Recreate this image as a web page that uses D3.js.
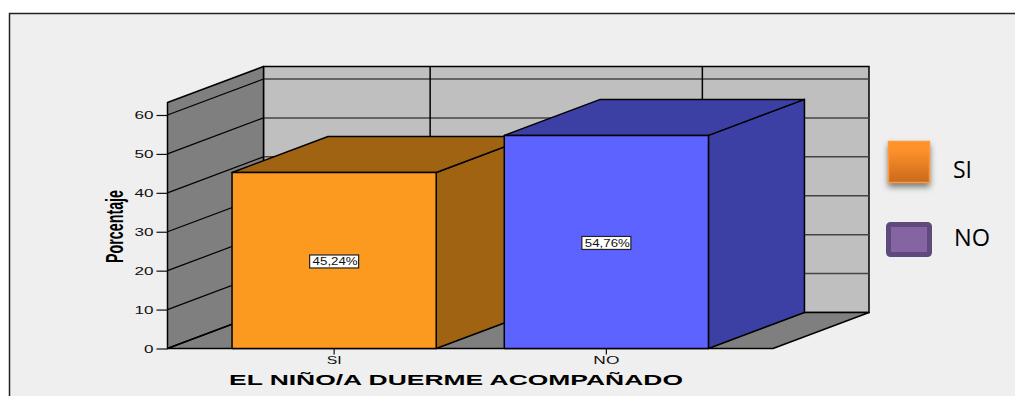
<!DOCTYPE html>
<html>
<head>
<meta charset="utf-8">
<title></title>
<style>
body { margin: 0; background: #fff; }
text { font-family: "Liberation Sans", Arial, sans-serif; fill: #111; }
.wall { fill: #7f7f7f; stroke: #000; stroke-width: 1.5px; stroke-linejoin: round; }
.back { fill: #bfbfbf; stroke: #000; stroke-width: 1.5px; }
.grid { stroke: #444; stroke-width: 1.5px; fill: none; }
.bar path { stroke: #000; stroke-width: 1.5px; stroke-linejoin: round; }
</style>
<script src="https://cdn.jsdelivr.net/npm/d3@7"></script>
</head>
<body>
<script>

var categories = ["SI", "NO"];
var percentages = [45.24, 54.76];
var valueLabels = ["45,24%", "54,76%"];
var yTicks = [0, 10, 20, 30, 40, 50, 60];
var legendLabels = ["SI", "NO"];
var xTitle = "EL NIÑO/A DUERME ACOMPAÑADO";
var yTitle = "Porcentaje";
var frontColors = ["#fc9a1f", "#5d63ff"];
var topColors = ["#a06311", "#3c40a4"];

var width = 1015,
    height = 396;

// depth of the fake 3d box
var depthX = 96,
    depthY = -36;

var y = d3.scaleLinear().domain([0, 60]).range([348.5, 115]);
var yMax = 63.2;

var x = d3.scaleBand()
    .domain(categories)
    .range([167.5, 773])
    .paddingInner(0.25)
    .paddingOuter(0.2371);

var svg = d3.select("body").append("svg")
    .attr("width", width)
    .attr("height", height)
    .style("display", "block");

// panel, no line on the right or at the bottom
svg.append("rect")
    .attr("x", 9.5).attr("y", 13.5)
    .attr("width", width - 9.5).attr("height", height - 13.5)
    .attr("fill", "#efefef");
svg.append("path")
    .attr("d", "M9.5,396V13.5H" + width)
    .attr("fill", "none")
    .attr("stroke", "#222")
    .attr("stroke-width", 1.5);

function poly(pts) {
  return d3.line()(pts) + "Z";
}

var x0 = x.range()[0],
    x1 = x.range()[1];

// back wall, side wall and floor
svg.append("path").attr("class", "back")
    .attr("d", poly([[x0 + depthX, y(yMax) + depthY], [x1 + depthX, y(yMax) + depthY], [x1 + depthX, y(0) + depthY], [x0 + depthX, y(0) + depthY]]));

svg.append("g").selectAll("line")
    .data(yTicks.slice(1))
    .enter().append("line")
    .attr("class", "grid")
    .attr("x1", x0 + depthX)
    .attr("x2", x1 + depthX)
    .attr("y1", function(d) { return y(d) + depthY; })
    .attr("y2", function(d) { return y(d) + depthY; });

svg.append("g").selectAll("line")
    .data(categories)
    .enter().append("line")
    .attr("stroke", "#000")
    .attr("stroke-width", 1.5)
    .attr("x1", function(d) { return x(d) + x.bandwidth() / 2 + depthX; })
    .attr("x2", function(d) { return x(d) + x.bandwidth() / 2 + depthX; })
    .attr("y1", y(yMax) + depthY)
    .attr("y2", y(0) + depthY);

svg.append("path").attr("class", "wall")
    .attr("d", poly([[x0, y(yMax)], [x0 + depthX, y(yMax) + depthY], [x0 + depthX, y(0) + depthY], [x0, y(0)]]));

svg.append("path").attr("class", "wall")
    .attr("d", poly([[x0, y(0)], [x1, y(0)], [x1 + depthX, y(0) + depthY], [x0 + depthX, y(0) + depthY]]));

svg.append("g").selectAll("line")
    .data(yTicks)
    .enter().append("line")
    .attr("stroke", "#000")
    .attr("stroke-width", 1.2)
    .attr("x1", x0)
    .attr("x2", x0 + depthX)
    .attr("y1", function(d) { return y(d); })
    .attr("y2", function(d) { return y(d) + depthY; });

// bars, back to front
var bar = svg.append("g").selectAll("g")
    .data(categories)
    .enter().append("g")
    .attr("class", "bar");

bar.append("path")
    .attr("fill", function(d, i) { return topColors[i]; })
    .attr("d", function(d, i) {
      var r = x(d) + x.bandwidth(), t = y(percentages[i]);
      return poly([[r, t], [r + depthX, t + depthY], [r + depthX, y(0) + depthY], [r, y(0)]]);
    });

bar.append("path")
    .attr("fill", function(d, i) { return topColors[i]; })
    .attr("d", function(d, i) {
      var l = x(d), r = l + x.bandwidth(), t = y(percentages[i]);
      return poly([[l, t], [l + depthX, t + depthY], [r + depthX, t + depthY], [r, t]]);
    });

bar.append("path")
    .attr("fill", function(d, i) { return frontColors[i]; })
    .attr("d", function(d, i) {
      var l = x(d), r = l + x.bandwidth(), t = y(percentages[i]);
      return poly([[l, t], [r, t], [r, y(0)], [l, y(0)]]);
    });

// value labels
bar.append("rect")
    .attr("x", function(d) { return x(d) + x.bandwidth() / 2 - 24.5; })
    .attr("y", function(d, i) { return y(percentages[i] / 2) - 5.5; })
    .attr("width", 49)
    .attr("height", 13)
    .attr("fill", "#fff")
    .attr("stroke", "#222")
    .attr("stroke-width", 1.2);

// the original text is stretched sideways, textLength does that
bar.append("text")
    .attr("x", function(d) { return x(d) + x.bandwidth() / 2 + 1; })
    .attr("y", function(d, i) { return y(percentages[i] / 2) + 5; })
    .attr("text-anchor", "middle")
    .attr("textLength", 45)
    .attr("lengthAdjust", "spacingAndGlyphs")
    .style("font-size", "10px")
    .text(function(d, i) { return valueLabels[i]; });

// axes
var yAxis = svg.append("g")
    .attr("transform", "translate(" + x0 + ",0)")
    .call(d3.axisLeft(y).tickValues(yTicks).tickSize(11).tickPadding(3));
yAxis.select(".domain").remove();
yAxis.selectAll("line").attr("stroke", "#111").attr("stroke-width", 1.2);
yAxis.selectAll("text")
    .attr("textLength", function(d) { return String(d).length * 9.5; })
    .attr("lengthAdjust", "spacingAndGlyphs")
    .style("font-size", "11px")
    .style("font-family", "Liberation Sans");

var xAxis = svg.append("g")
    .attr("transform", "translate(0," + y(0) + ")")
    .call(d3.axisBottom(x).tickSize(6).tickPadding(2));
xAxis.select(".domain").remove();
xAxis.selectAll("line").attr("stroke", "#111").attr("stroke-width", 1.2);
xAxis.selectAll("text")
    .attr("textLength", function(d) { return d == "SI" ? 15 : 26; })
    .attr("lengthAdjust", "spacingAndGlyphs")
    .style("font-size", "11px")
    .style("font-family", "Liberation Sans");

svg.append("text")
    .attr("x", 456)
    .attr("y", 385)
    .attr("text-anchor", "middle")
    .attr("textLength", 454)
    .attr("lengthAdjust", "spacingAndGlyphs")
    .style("font-size", "15px")
    .style("font-weight", "bold")
    .style("fill", "#000")
    .text(xTitle);

svg.append("text")
    .attr("transform", "translate(123,226.5) rotate(-90)")
    .attr("text-anchor", "middle")
    .attr("textLength", 73)
    .attr("lengthAdjust", "spacingAndGlyphs")
    .style("font-size", "24px")
    .style("font-weight", "bold")
    .style("fill", "#000")
    .text(yTitle);

// legend
var defs = svg.append("defs");
var grad = defs.append("linearGradient").attr("id", "orange").attr("x2", 0).attr("y2", 1);
grad.append("stop").attr("offset", "0.2").attr("stop-color", "#ff912b");
grad.append("stop").attr("offset", "1").attr("stop-color", "#c96a1c");
var blur = defs.append("filter").attr("id", "shadow")
    .attr("x", "-30%").attr("y", "-30%").attr("width", "160%").attr("height", "160%");
blur.append("feGaussianBlur").attr("stdDeviation", 3);

svg.append("rect")
    .attr("x", 888).attr("y", 145).attr("width", 42).attr("height", 42)
    .attr("fill", "#777").attr("filter", "url(#shadow)");
svg.append("rect")
    .attr("x", 888.5).attr("y", 141.5).attr("width", 41).attr("height", 41)
    .attr("fill", "url(#orange)").attr("stroke", "#ff9a3a").attr("stroke-width", 1.5);
svg.append("rect")
    .attr("x", 888.5).attr("y", 224.5).attr("width", 41).attr("height", 30).attr("rx", 2)
    .attr("fill", "#8464a2").attr("stroke", "#5f4a7c").attr("stroke-width", 5);

svg.append("g").selectAll("text")
    .data(legendLabels)
    .enter().append("text")
    .attr("x", function(d, i) { return i == 0 ? 953 : 954; })
    .attr("y", function(d, i) { return i == 0 ? 178 : 246; })
    .attr("textLength", function(d, i) { return i == 0 ? 19 : 36; })
    .attr("lengthAdjust", "spacingAndGlyphs")
    .style("font-family", "'Open Sans', sans-serif")
    .style("font-size", "24px")
    .style("fill", "#000")
    .text(function(d) { return d; });

</script>
</body>
</html>
